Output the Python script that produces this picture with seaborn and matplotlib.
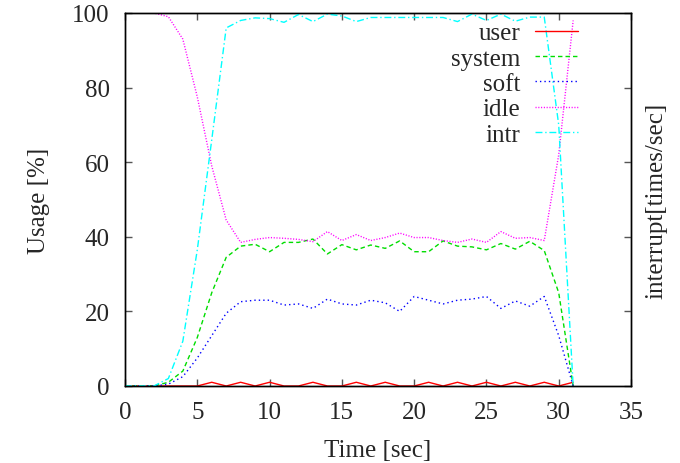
import numpy as np
import pandas as pd
import seaborn as sns
import matplotlib
matplotlib.use("Agg")
import matplotlib.pyplot as plt

# ---- data ----
time_sec = list(range(0, 32))
user = [0, 0, 0, 0, 0, 0, 1, 0, 1, 0, 1, 0, 0, 1, 0, 0, 1, 0, 1, 0, 0, 1, 0, 1, 0, 1, 0, 1, 0, 1, 0, 1]
system = [0, 0, 0, 1, 4, 13, 25, 34.5, 37.5, 38, 36, 38.5, 38.5, 39.4, 35.4, 37.9, 36.5, 37.8, 36.9,
          38.9, 36, 36, 38.9, 37.5, 37.3, 36.5, 38.2, 36.7, 38.8, 36.3, 25, 0]
soft = [0, 0, 0, 0.5, 2.5, 7.5, 13.5, 19.5, 22.6, 23, 23, 21.7, 22, 20.8, 23.3, 22, 21.7, 23, 22.3,
        20, 24, 23, 22, 23, 23.3, 24, 20.8, 22.8, 21.4, 24, 13.5, 0]
idle = [100, 100, 100, 99, 93, 77.5, 59, 44.5, 38.5, 39.3, 39.8, 39.6, 39.3, 38.7, 41.4, 39, 40.6, 39,
        39.8, 41, 39.8, 39.8, 39, 38.5, 39.4, 38.5, 41.4, 39.6, 39.8, 39, 62, 98]
intr = [0, 0, 0, 2, 12, 36.5, 66, 96, 98, 98.7, 98.5, 97.5, 99.6, 97.7, 99.7, 99.2, 97.7, 98.8, 98.8,
        98.8, 98.8, 98.8, 98.8, 97.7, 99.7, 98, 99.7, 97.8, 98.9, 98.9, 70, 0]

x_ticks = [0, 5, 10, 15, 20, 25, 30, 35]
y_ticks = [0, 20, 40, 60, 80, 100]

sns.set_style("white")
plt.rcParams["font.family"] = ["Liberation Serif", "DejaVu Serif"]

FS = 18

fig = plt.figure(figsize=(6.8, 4.64), dpi=100)
ax = fig.add_axes([125 / 680, 1 - 387 / 464, (631 - 125) / 680, (387 - 14) / 464])
ax2 = ax.twinx()

df = pd.DataFrame({"t": time_sec, "user": user, "system": system, "soft": soft, "idle": idle})
dfi = pd.DataFrame({"t": time_sec, "intr": intr})

lw = 1.0
specs = [
    ("user", "#ff0000", None),
    ("system", "#00dd00", (3.2, 2.2)),
    ("soft", "#0000ff", (1.0, 2.2)),
    ("idle", "#ff00ff", (0.8, 1.2)),
]
for name, col, dash in specs:
    sns.lineplot(data=df, x="t", y=name, ax=ax, color=col, lw=lw, label=name, legend=False)
    if dash is not None:
        ax.lines[-1].set_dashes(dash)

sns.lineplot(data=dfi, x="t", y="intr", ax=ax2, color="#00ffff", lw=lw, label="intr", legend=False)
ax2.lines[-1].set_dashes((5, 2, 1, 2))

for a in (ax, ax2):
    a.set_xlim(0, 35)
    a.set_ylim(0, 100)

ax.set_xticks(x_ticks)
ax.set_yticks(y_ticks)
ax.set_xticklabels([str(v) for v in x_ticks], fontsize=FS)
ax.set_yticklabels([str(v) for v in y_ticks], fontsize=FS)
ax.tick_params(axis="x", direction="in", length=5, width=1, color="#555555", pad=11,
               top=True, bottom=True)
ax.tick_params(axis="y", direction="in", length=5, width=1, color="#555555", pad=11,
               left=True, right=False)
ax2.set_yticks(y_ticks)
ax2.set_yticklabels([])
ax2.tick_params(axis="y", direction="in", length=5, width=1, color="#555555")

ax.set_xlabel("Time [sec]", fontsize=FS, labelpad=11)
ax.set_ylabel("Usage [%]", fontsize=FS, labelpad=16)
ax2.set_ylabel("interrupt[times/sec]", fontsize=FS, labelpad=7)

for a in (ax, ax2):
    for s in a.spines.values():
        s.set_color("black")
        s.set_linewidth(1.0)

handles = ax.lines[:4] + ax2.lines[-1:]
labels = ["user", "system", "soft", "idle", "intr"]
leg = ax2.legend(handles, labels, loc="upper right", bbox_to_anchor=((578 - 125) / 506, (387 - 23) / 373),
                 frameon=False, markerfirst=False, fontsize=FS, handlelength=1.72,
                 handletextpad=0.6, labelspacing=0.11, borderpad=0, borderaxespad=0)

fig.savefig("out.png", dpi=100)
